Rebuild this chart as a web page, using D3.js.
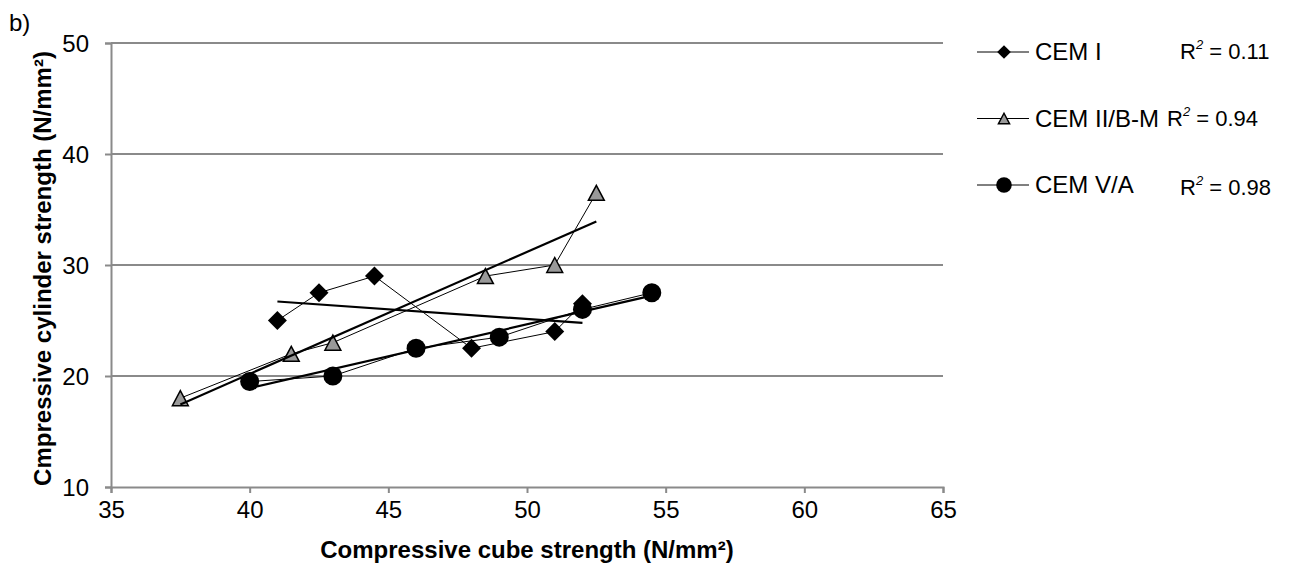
<!DOCTYPE html>
<html>
<head>
<meta charset="utf-8">
<script src="https://cdn.jsdelivr.net/npm/d3@7"></script>
<style>
  body { margin: 0; background: #fff; }
  svg { font-family: "Liberation Sans", Arial, sans-serif; }
</style>
</head>
<body>
<div id="chart"></div>
<script>
// data
const seriesNames = ["CEM I", "CEM II/B-M", "CEM V/A"];
const r2Labels = ["0.11", "0.94", "0.98"];
const cemI_x = [41, 42.5, 44.5, 48, 51, 52];
const cemI_y = [25, 27.5, 29, 22.5, 24, 26.5];
const cemII_x = [37.5, 41.5, 43, 48.5, 51, 52.5];
const cemII_y = [18, 22, 23, 29, 30, 36.5];
const cemV_x = [40, 43, 46, 49, 52, 54.5];
const cemV_y = [19.5, 20, 22.5, 23.5, 26, 27.5];
const xTicks = [35, 40, 45, 50, 55, 60, 65];
const yTicks = [10, 20, 30, 40, 50];

const width = 1302, height = 569;
const margin = {left: 111, right: 359, top: 43, bottom: 82};

const svg = d3.select("#chart").append("svg")
    .attr("width", width)
    .attr("height", height);

const x = d3.scaleLinear().domain([35, 65]).range([margin.left, width - margin.right]);
const y = d3.scaleLinear().domain([10, 50]).range([height - margin.bottom, margin.top]);

const grey = "#8a8a8a";

// gridlines
svg.append("g")
    .selectAll("line")
    .data(yTicks.slice(1))
    .enter().append("line")
    .attr("x1", x(35)).attr("x2", x(65))
    .attr("y1", d => y(d)).attr("y2", d => y(d))
    .attr("stroke", grey).attr("stroke-width", 2);

// axes
const xAxis = svg.append("g")
    .attr("transform", `translate(0,${y(10)})`)
    .call(d3.axisBottom(x).tickValues(xTicks).tickSize(6).tickPadding(8));
const yAxis = svg.append("g")
    .attr("transform", `translate(${x(35)},0)`)
    .call(d3.axisLeft(y).tickValues(yTicks).tickSize(6).tickPadding(16));

[xAxis, yAxis].forEach(a => {
    a.select(".domain").attr("stroke", grey).attr("stroke-width", 2);
    a.selectAll(".tick line").attr("stroke", grey).attr("stroke-width", 2);
    a.selectAll(".tick text")
        .attr("fill", "#000")
        .style("font-size", "24px")
        .style("font-family", "Liberation Sans, Arial, sans-serif");
});
yAxis.selectAll(".tick text").attr("dy", "0.36em");

// markers
const diamond = d3.symbol().type(d3.symbolSquare).size(180)();
const triangle = s => `M0,${-s * 0.5}L${s * 0.53},${s * 0.5}L${-s * 0.53},${s * 0.5}Z`;
const markers = [
    {path: diamond, rotate: 45, fill: "#000", stroke: "none", legendScale: 0.72},
    {path: triangle(15), rotate: 0, fill: "#999", stroke: "#000", legendScale: 0.7},
    {path: d3.symbol().type(d3.symbolCircle).size(283)(), rotate: 0, fill: "#000", stroke: "none", legendScale: 0.82}
];

const series = [
    cemI_x.map((v, i) => [v, cemI_y[i]]),
    cemII_x.map((v, i) => [v, cemII_y[i]]),
    cemV_x.map((v, i) => [v, cemV_y[i]])
];

const line = d3.line().x(d => x(d[0])).y(d => y(d[1]));

series.forEach((pts, si) => {
    const g = svg.append("g");
    g.append("path")
        .attr("d", line(pts))
        .attr("fill", "none")
        .attr("stroke", "#000")
        .attr("stroke-width", 1);
    const m = markers[si];
    g.selectAll("path.mk")
        .data(pts)
        .enter().append("path")
        .attr("class", "mk")
        .attr("d", m.path)
        .attr("transform", d => `translate(${x(d[0])},${y(d[1])}) rotate(${m.rotate})`)
        .attr("fill", m.fill)
        .attr("stroke", m.stroke)
        .attr("stroke-width", 1.5);
});

// linear trendlines (least squares) over each series' x range
series.forEach(pts => {
    const mx = d3.mean(pts, d => d[0]), my = d3.mean(pts, d => d[1]);
    const sxy = d3.sum(pts, d => (d[0] - mx) * (d[1] - my));
    const sxx = d3.sum(pts, d => (d[0] - mx) ** 2);
    const b = sxy / sxx, a = my - b * mx;
    const [x0, x1] = d3.extent(pts, d => d[0]);
    svg.append("line")
        .attr("x1", x(x0)).attr("y1", y(a + b * x0))
        .attr("x2", x(x1)).attr("y2", y(a + b * x1))
        .attr("stroke", "#000")
        .attr("stroke-width", 2.2);
});

// legend
const legendRows = [52, 118.5, 185];
const r2X = [203, 190, 203];
seriesNames.forEach((name, i) => {
    const g = svg.append("g").attr("transform", `translate(977,${legendRows[i]})`);
    g.append("line").attr("x1", 0).attr("x2", 52).attr("stroke", "#000").attr("stroke-width", 1);
    const m = markers[i];
    g.append("path")
        .attr("d", m.path)
        .attr("transform", `translate(27,0) rotate(${m.rotate}) scale(${m.legendScale})`)
        .attr("fill", m.fill)
        .attr("stroke", m.stroke)
        .attr("stroke-width", 1.5 / m.legendScale);
    g.append("text")
        .attr("x", 58).attr("y", 8)
        .style("font-size", "24px")
        .text(name);
    const t = g.append("text")
        .attr("x", r2X[i]).attr("y", i === 2 ? 10 : 7)
        .style("font-size", "22px");
    t.append("tspan").text("R");
    t.append("tspan").attr("dy", -10).style("font-size", "13px").style("font-style", "italic").text("2");
    t.append("tspan").attr("dy", 10).text(" = " + r2Labels[i]);
});

// axis titles
svg.append("text")
    .attr("x", (x(35) + x(65)) / 2)
    .attr("y", 558)
    .attr("text-anchor", "middle")
    .style("font-size", "24px")
    .style("font-weight", "bold")
    .text("Compressive cube strength (N/mm²)");

svg.append("text")
    .attr("transform", `translate(51,${(50 + 487) / 2}) rotate(-90)`)
    .attr("text-anchor", "middle")
    .style("font-size", "24px")
    .style("font-weight", "bold")
    .text("Cmpressive cylinder strength (N/mm²)");

svg.append("text")
    .attr("x", 9).attr("y", 31)
    .style("font-size", "24px")
    .text("b)");
</script>
</body>
</html>
